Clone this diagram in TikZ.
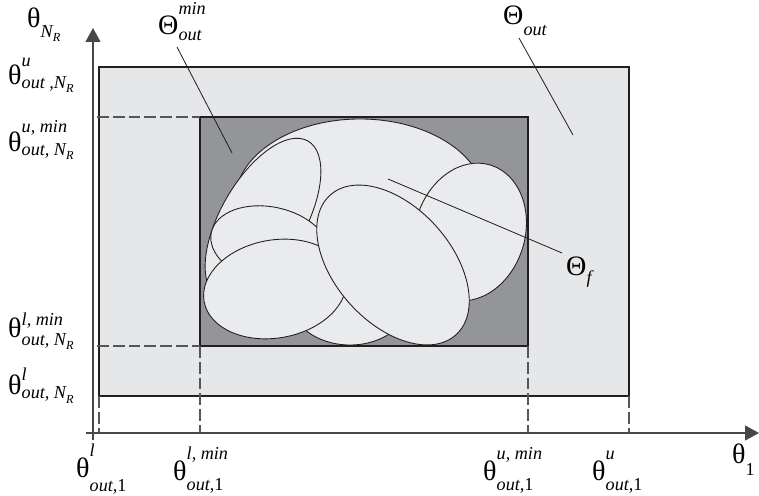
\documentclass[tikz,border=0pt]{standalone}
\usepackage{amsmath}
\usepackage{fontspec}
\setmainfont{Liberation Serif}
\usepackage{xcolor}
\usepackage{tikz}
\usetikzlibrary{arrows.meta}

\definecolor{outfill}{HTML}{E6E7E9}
\definecolor{minfill}{HTML}{939598}
\definecolor{setfill}{HTML}{EAEBED}
\definecolor{edgecol}{HTML}{231F20}
\definecolor{dashcol}{HTML}{555555}

% script sizes and a symbol with raised / lowered indices
\newcommand{\scr}{\fontsize{15.5}{17}\selectfont\itshape}
\newcommand{\rsub}{\fontsize{10.5}{12}\selectfont\itshape}
\newcommand{\NR}{N\raisebox{-0.25em}{\rsub R}}
\newcommand{\pv}[5]{#1\rlap{\raisebox{#2}{\scr #3}}\raisebox{-#4}{\scr #5}}

\begin{document}
\begin{tikzpicture}[x=0.3mm, y=0.3mm,
	lbl/.style={font=\fontsize{24}{28}\selectfont, inner sep=0pt, anchor=base west},
	box/.style={draw=edgecol, line width=1pt},
	set/.style={draw=edgecol, fill=setfill, line width=0.75pt},
	guide/.style={dashcol, dashed, dash pattern=on 10pt off 3.5pt, line width=1pt},
	leader/.style={edgecol, line width=0.7pt},
	axis/.style={-{Triangle[length=4.2mm, width=4.5mm]}, line width=1pt, color=black!72}
	]
		\useasboundingbox (0,0) rectangle (759,495);
		% boxes
		\filldraw[box, fill=outfill] (99,99) rectangle (629,428);
		\filldraw[box, fill=minfill] (200,149) rectangle (528,378);
		% feasible set
		\filldraw[set] (350,195) ellipse [x radius=60, y radius=45];
		\filldraw[set] (360,294) ellipse [x radius=125, y radius=82];
		\filldraw[set, rotate around={60:(263,276)}] (263,276) ellipse [x radius=90, y radius=42];
		\filldraw[set, rotate around={-12:(270,250)}] (270,250) ellipse [x radius=60, y radius=38];
		\filldraw[set, rotate around={73:(470,263)}] (470,263) ellipse [x radius=70, y radius=55];
		\filldraw[set, rotate around={10:(275,206)}] (275,206) ellipse [x radius=72, y radius=49];
		\filldraw[set, rotate around={-48:(393,230)}] (393,230) ellipse [x radius=94, y radius=58];
		% axes
		\draw[axis] (93,55) -- (93,467);
		\draw[axis] (86,62) -- (759,62);
		% guides
		\draw[guide] (97,378) -- (200,378);
		\draw[guide] (97,149) -- (200,149);
		\draw[guide] (99,99) -- (99,62);
		\draw[guide] (200,149) -- (200,62);
		\draw[guide] (528,149) -- (528,62);
		\draw[guide] (629,99) -- (629,62);
		% labels
		\node[lbl] (yax) at (27,467) {\pv{θ}{0em}{}{0.33em}{\NR}};
		\node[lbl] (yu) at (8,410) {\pv{θ}{0.65em}{u}{0.11em}{out ,\NR}};
		\node[lbl] (yumin) at (8,343) {\pv{θ}{0.68em}{u, min}{0.11em}{out, \NR}};
		\node[lbl] (ylmin) at (8,157) {\pv{θ}{0.45em}{l, min}{0.25em}{out, \NR}};
		\node[lbl] (yl) at (8,100) {\pv{θ}{0.52em}{l}{0.13em}{out, \NR}};
		\node[lbl] (xl) at (76,18) {\pv{θ}{0.72em}{l}{0.5em}{out,\upshape 1}};
		\node[lbl] (xlmin) at (173,15) {\pv{θ}{0.72em}{l, min}{0.36em}{out,\upshape 1}};
		\node[lbl] (xumin) at (483,15) {\pv{θ}{0.72em}{u, min}{0.36em}{out,\upshape 1}};
		\node[lbl] (xu) at (592,15) {\pv{θ}{0.72em}{u}{0.36em}{out,\upshape 1}};
		\node[lbl] (xax) at (732,32) {\pv{θ}{0em}{}{0.43em}{\upshape 1}};
		\node[lbl] (tmin) at (158,460) {\pv{Θ}{0.74em}{min}{0.18em}{out}};
		\node[lbl] (tout) at (503,470) {\pv{Θ}{0em}{}{0.36em}{out}};
		\node[lbl] (tf) at (566,219) {\pv{Θ}{0em}{}{0.25em}{f}};
		% leaders
		\coordinate (smin) at (177,448);
		\coordinate (pmin) at (232,342);
		\coordinate (sout) at (519,457);
		\coordinate (pout) at (573,360);
		\coordinate (sf) at (562,242);
		\coordinate (pf) at (388,316);
		\draw[leader] (smin) -- (pmin);
		\draw[leader] (sout) -- (pout);
		\draw[leader] (sf) -- (pf);
	\end{tikzpicture}
\end{document}
